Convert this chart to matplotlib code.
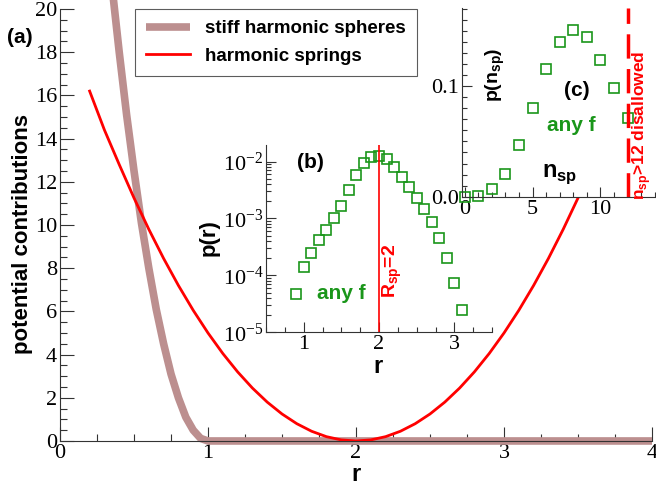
import math
import matplotlib
matplotlib.use("Agg")
import matplotlib.pyplot as plt
from matplotlib.ticker import MultipleLocator, FixedLocator, FuncFormatter, LogLocator, NullFormatter

serif = "Liberation Serif"
sans = "Liberation Sans"
plt.rcParams["font.family"] = serif
plt.rcParams["mathtext.fontset"] = "custom"
plt.rcParams["mathtext.rm"] = serif
plt.rcParams["mathtext.bf"] = sans + ":bold"

# (a) potential curves
r_sph = [0.36, 0.40, 0.45, 0.50, 0.55, 0.60, 0.65, 0.70, 0.75, 0.80, 0.85, 0.90, 0.95, 1.00, 4.00]
u_sph = [20.5, 18.0, 15.1, 12.5, 10.1, 8.0, 6.1, 4.5, 3.1, 2.0, 1.1, 0.5, 0.12, 0.0, 0.0]

r_spr = [0.2, 0.3, 0.4, 0.5, 0.6, 0.7, 0.8, 0.9, 1.0, 1.1, 1.2, 1.3, 1.4, 1.5, 1.6, 1.7, 1.8, 1.9, 2.0,
         2.1, 2.2, 2.3, 2.4, 2.5, 2.6, 2.7, 2.8, 2.9, 3.0, 3.1, 3.2, 3.3, 3.4, 3.5, 3.6, 3.7, 3.8, 3.9, 4.0]
u_spr = [16.2, 14.4, 12.8, 11.25, 9.8, 8.45, 7.2, 6.05, 5.0, 4.05, 3.2, 2.45, 1.8, 1.25, 0.8, 0.45, 0.2, 0.05, 0.0,
         0.05, 0.2, 0.45, 0.8, 1.25, 1.8, 2.45, 3.2, 4.05, 5.0, 6.05, 7.2, 8.45, 9.8, 11.25, 12.8, 14.45, 16.2, 18.05, 20.0]

# (b) distribution of r
r_b = [0.9, 1.0, 1.1, 1.2, 1.3, 1.4, 1.5, 1.6, 1.7, 1.8, 1.9, 2.0, 2.1, 2.2, 2.3, 2.4, 2.5, 2.6, 2.7, 2.8, 2.9, 3.0, 3.1]
p_b = [4.8e-5, 1.42e-4, 2.5e-4, 4.2e-4, 6.3e-4, 1.0e-3, 1.66e-3, 3.2e-3, 5.7e-3, 9.4e-3, 1.22e-2, 1.26e-2,
       1.1e-2, 8.2e-3, 5.4e-3, 3.6e-3, 2.33e-3, 1.49e-3, 8.6e-4, 4.5e-4, 2.0e-4, 7.4e-5, 2.45e-5]

# (c) distribution of n_sp
n_c = [0, 1, 2, 3, 4, 5, 6, 7, 8, 9, 10, 11, 12]
p_c = [0.0, 0.001, 0.007, 0.021, 0.047, 0.080, 0.115, 0.140, 0.151, 0.144, 0.124, 0.098, 0.071]

brown = "#bc8f8f"
green = "#1a961a"
red = "#ff0000"

fig = plt.figure(figsize=(6.56, 4.87), dpi=100)


def style_ticks(ax, size, major, minor):
    ax.tick_params(which="both", direction="in", width=0.8, colors="#333333", labelcolor="black")
    ax.tick_params(which="major", length=major, labelsize=size, pad=2)
    ax.tick_params(which="minor", length=minor)
    for s in ["top", "right"]:
        ax.spines[s].set_visible(False)
    for s in ["left", "bottom"]:
        ax.spines[s].set_linewidth(0.8)
        ax.spines[s].set_color("#333333")


def label(ax, x, y, s, size, color="black", rot=0):
    ax.text(x, y, s, transform=ax.transAxes, fontfamily=sans, fontweight="bold", fontsize=size,
            color=color, rotation=rot, ha="center", va="center", clip_on=False)


# main panel (a)
ax = fig.add_axes([0.0915, 0.0945, 0.9024, 0.887])
ax.plot(r_sph, u_sph, color=brown, lw=5.5, solid_capstyle="butt", clip_on=False, zorder=2,
        label="stiff harmonic spheres")
ax.plot(r_spr, u_spr, color=red, lw=2, zorder=3, label="harmonic springs")
ax.set_xlim(0, 4)
ax.set_ylim(0, 20)
ax.xaxis.set_major_locator(MultipleLocator(1))
ax.xaxis.set_minor_locator(MultipleLocator(0.25))
ax.yaxis.set_major_locator(MultipleLocator(2))
ax.yaxis.set_minor_locator(MultipleLocator(0.5))
style_ticks(ax, 16, 10, 5)
ax.set_xlabel("r", fontfamily=sans, fontweight="bold", fontsize=17, labelpad=0)
label(ax, -0.064, 0.48, "potential contributions", 16, rot=90)
label(ax, -0.068, 0.935, "(a)", 15)
leg = ax.legend(loc="upper left", bbox_to_anchor=(0.127, 1.0), borderaxespad=0, fancybox=False,
                edgecolor="#333333", handlelength=2.3, prop={"family": sans, "weight": "bold", "size": 13.5},
                borderpad=0.6, labelspacing=0.55)
leg.get_frame().set_linewidth(0.8)

# inset (b)
axb = fig.add_axes([0.4055, 0.3177, 0.3445, 0.3846])
axb.patch.set_alpha(0)
axb.plot(r_b, p_b, ls="none", marker="s", ms=6.5, mfc="none", mec=green, mew=1.2, clip_on=False)
axb.axvline(2, color=red, lw=1.2)
axb.set_yscale("log")
axb.set_xlim(0.5, 3.5)
axb.set_ylim(1e-5, 1.96e-2)
axb.xaxis.set_major_locator(MultipleLocator(1))
axb.xaxis.set_minor_locator(MultipleLocator(0.25))
axb.yaxis.set_major_locator(FixedLocator([1e-5, 1e-4, 1e-3, 1e-2]))
axb.yaxis.set_minor_locator(LogLocator(base=10, subs=range(2, 10)))
axb.yaxis.set_minor_formatter(NullFormatter())
axb.yaxis.set_major_formatter(FuncFormatter(lambda v, p: r"$\mathregular{10^{%d}}$" % round(math.log10(v))))
style_ticks(axb, 16, 7, 3.5)
label(axb, 0.195, 0.904, "(b)", 15)
label(axb, 0.332, 0.209, "any f", 15, color=green)
label(axb, 0.557, 0.33, r"R$_{\mathbf{sp}}$=2", 14, color=red, rot=90)
label(axb, -0.252, 0.508, "p(r)", 16, rot=90)
label(axb, 0.496, -0.182, "r", 17)

# inset (c)
axc = fig.add_axes([0.7043, 0.596, 0.2957, 0.3875])
axc.patch.set_facecolor("white")
axc.plot(n_c, p_c, ls="none", marker="s", ms=6.5, mfc="none", mec=green, mew=1.2, clip_on=False)
axc.axvline(12, color=red, lw=2.5, dashes=(7, 3))
axc.set_xlim(-0.2, 14.1)
axc.set_ylim(0, 0.1705)
axc.xaxis.set_major_locator(MultipleLocator(5))
axc.xaxis.set_minor_locator(MultipleLocator(1))
axc.yaxis.set_major_locator(MultipleLocator(0.1))
axc.yaxis.set_minor_locator(MultipleLocator(0.01))
axc.yaxis.set_major_formatter(FuncFormatter(lambda v, p: "%.1f" % v))
style_ticks(axc, 16, 7, 3.5)
label(axc, 0.17, 0.645, r"p(n$_{\mathbf{sp}}$)", 14, rot=90)
label(axc, 0.591, 0.565, "(c)", 15)
label(axc, 0.562, 0.38, "any f", 15, color=green)
label(axc, 0.505, 0.12, r"n$_{\mathbf{sp}}$", 17)
label(axc, 0.926, 0.38, r"n$_{\mathbf{sp}}$>12 disallowed", 12.5, color=red, rot=90)

fig.savefig("out.png", dpi=100)
